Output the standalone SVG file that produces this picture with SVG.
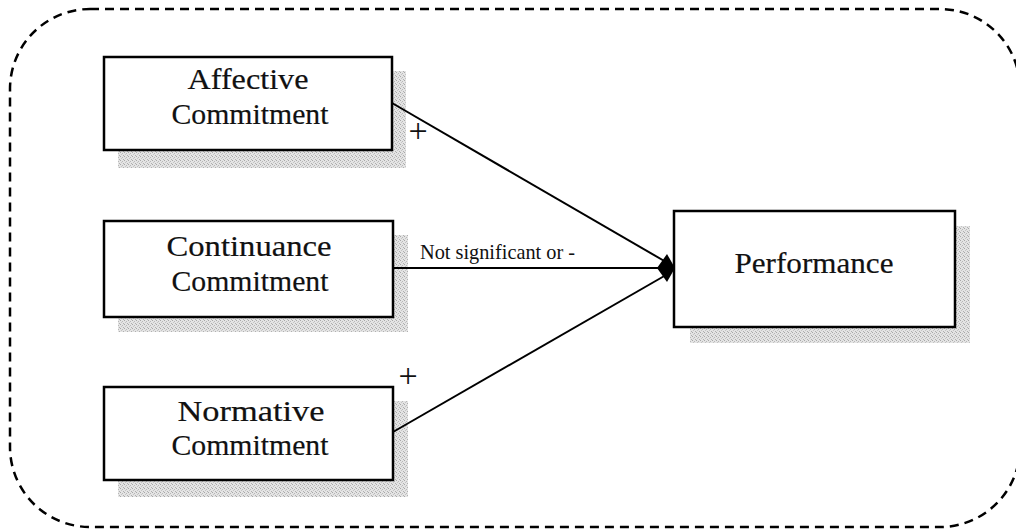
<svg xmlns="http://www.w3.org/2000/svg" width="1016" height="529" viewBox="0 0 1016 529">
  <defs>
    <!-- speckled grey used for the drop shadows -->
    <pattern id="grain" width="4" height="4" patternUnits="userSpaceOnUse">
      <rect width="4" height="4" fill="#e4e4e4"/>
      <rect x="0" y="0" width="1" height="1" fill="#a8a8a8"/>
      <rect x="2" y="1" width="1" height="1" fill="#b8b8b8"/>
      <rect x="1" y="2" width="1" height="1" fill="#c4c4c4"/>
      <rect x="3" y="3" width="1" height="1" fill="#b0b0b0"/>
    </pattern>
    <style>
      .frame { fill: none; stroke: #000; stroke-width: 2.5; stroke-dasharray: 9 6; }
      .shadow { fill: url(#grain); }
      .box { fill: #fff; stroke: #000; stroke-width: 2.5; }
      .label { font-family: "Liberation Serif", "Times New Roman", serif; font-size: 30px; fill: #111; text-anchor: middle; stroke: #111; stroke-width: 0.2; }
      .edge { stroke: #000; stroke-width: 2; fill: none; }
      .edge-label { font-family: "Liberation Serif", "Times New Roman", serif; fill: #111; }
    </style>
  </defs>

  <rect width="1016" height="529" fill="#fff"/>

  <!-- dashed rounded frame around the model -->
  <rect class="frame" x="10" y="9" width="1010" height="518" rx="80" ry="80"/>

  <g id="affective">
    <rect class="shadow" x="118" y="71" width="288" height="97"/>
    <rect class="box" x="104" y="57" width="288" height="93"/>
    <text class="label" x="248" y="89" textLength="121" lengthAdjust="spacingAndGlyphs">Affective</text>
    <text class="label" x="250" y="124" textLength="157" lengthAdjust="spacingAndGlyphs">Commitment</text>
  </g>

  <g id="continuance">
    <rect class="shadow" x="118" y="235" width="290" height="97"/>
    <rect class="box" x="104" y="221" width="289" height="96"/>
    <text class="label" x="249" y="256" textLength="165" lengthAdjust="spacingAndGlyphs">Continuance</text>
    <text class="label" x="250" y="291" textLength="157" lengthAdjust="spacingAndGlyphs">Commitment</text>
  </g>

  <g id="normative">
    <rect class="shadow" x="118" y="401" width="290" height="96"/>
    <rect class="box" x="104" y="387" width="289" height="93"/>
    <text class="label" x="251" y="421" textLength="147" lengthAdjust="spacingAndGlyphs">Normative</text>
    <text class="label" x="250" y="455" textLength="157" lengthAdjust="spacingAndGlyphs">Commitment</text>
  </g>

  <g id="performance">
    <rect class="shadow" x="690" y="226" width="280" height="117"/>
    <rect class="box" x="674" y="211" width="281" height="116"/>
    <text class="label" x="814" y="273" textLength="159" lengthAdjust="spacingAndGlyphs">Performance</text>
  </g>

  <g id="connectors">
    <line class="edge" x1="392" y1="103" x2="666" y2="262"/>
    <line class="edge" x1="393" y1="268" x2="670" y2="268"/>
    <line class="edge" x1="393" y1="432" x2="666" y2="275"/>
    <polygon points="657,268 667,254 675,268 667,282" fill="#000"/>
    <text class="edge-label" x="418" y="142" font-size="34" text-anchor="middle">+</text>
    <text class="edge-label" x="408" y="387" font-size="34" text-anchor="middle">+</text>
    <text class="edge-label" x="420" y="259" font-size="21" textLength="155" lengthAdjust="spacingAndGlyphs">Not significant or -</text>
  </g>
</svg>
